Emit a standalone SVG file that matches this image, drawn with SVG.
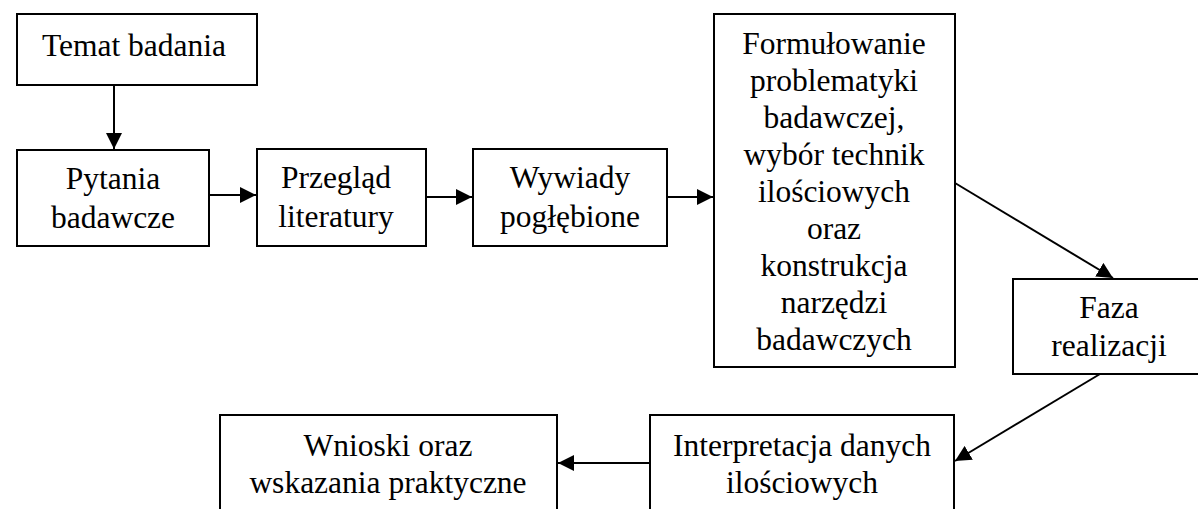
<svg xmlns="http://www.w3.org/2000/svg" width="1198" height="509" viewBox="0 0 1198 509">
<style>
.box{fill:#fff;stroke:#000;stroke-width:2}
text{font-family:"Liberation Serif","DejaVu Serif",serif;font-size:31.5px;fill:#000;text-anchor:middle}
.c{stroke:#000;stroke-width:2;fill:none}
</style>
<defs>
<marker id="ah" markerUnits="userSpaceOnUse" markerWidth="18" markerHeight="16" refX="16" refY="8" orient="auto">
<path d="M0,0 L16,8 L0,16 Z" fill="#000"/>
</marker>
</defs>
<rect width="1198" height="509" fill="#fff"/>
<g id="connectors">
<line class="c" x1="114" y1="85" x2="114" y2="149" marker-end="url(#ah)"/>
<line class="c" x1="209" y1="195" x2="256" y2="195" marker-end="url(#ah)"/>
<line class="c" x1="426" y1="197" x2="472" y2="197" marker-end="url(#ah)"/>
<line class="c" x1="667" y1="197" x2="713" y2="197" marker-end="url(#ah)"/>
<line class="c" x1="955" y1="183" x2="1113" y2="278" marker-end="url(#ah)"/>
<line class="c" x1="1100" y1="374" x2="955" y2="461" marker-end="url(#ah)"/>
<line class="c" x1="650" y1="463" x2="558" y2="463" marker-end="url(#ah)"/>
</g>
<g id="n-temat">
<rect class="box" x="17" y="14" width="240" height="71"/>
<text x="134" y="56" font-family="Liberation Serif, serif">Temat badania</text>
</g>
<g id="n-pytania">
<rect class="box" x="17" y="150" width="192" height="96"/>
<text x="113" y="189">Pytania</text>
<text x="113" y="228">badawcze</text>
</g>
<g id="n-przeglad">
<rect class="box" x="257" y="149" width="169" height="97"/>
<text x="336" y="188">Przegląd</text>
<text x="336" y="227">literatury</text>
</g>
<g id="n-wywiady">
<rect class="box" x="473" y="149" width="194" height="97"/>
<text x="570" y="188">Wywiady</text>
<text x="570" y="227">pogłębione</text>
</g>
<g id="n-formulowanie">
<rect class="box" x="714" y="14" width="241" height="353"/>
<text x="834" y="54">Formułowanie</text>
<text x="834" y="91">problematyki</text>
<text x="834" y="128">badawczej,</text>
<text x="834" y="165">wybór technik</text>
<text x="834" y="202">ilościowych</text>
<text x="834" y="239">oraz</text>
<text x="834" y="276">konstrukcja</text>
<text x="834" y="313">narzędzi</text>
<text x="834" y="350">badawczych</text>
</g>
<g id="n-faza">
<rect class="box" x="1013" y="279" width="200" height="95"/>
<text x="1109" y="318">Faza</text>
<text x="1109" y="356">realizacji</text>
</g>
<g id="n-interpretacja">
<rect class="box" x="650" y="415" width="304" height="110"/>
<text x="802" y="456">Interpretacja danych</text>
<text x="802" y="493">ilościowych</text>
</g>
<g id="n-wnioski">
<rect class="box" x="220" y="415" width="337" height="110"/>
<text x="388" y="456">Wnioski oraz</text>
<text x="388" y="493">wskazania praktyczne</text>
</g>
</svg>
